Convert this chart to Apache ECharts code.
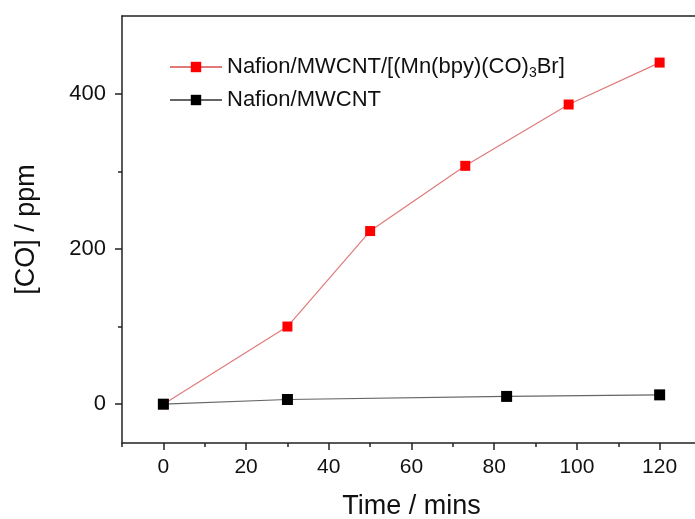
<!DOCTYPE html>
<html>
<head>
<meta charset="utf-8">
<script src="https://cdn.jsdelivr.net/npm/echarts@6/dist/echarts.min.js"></script>
<style>
  html, body { margin: 0; padding: 0; background: #fff; }
  #chart { width: 695px; height: 519px; }
</style>
</head>
<body>
<div id="chart"></div>
<script>
// tick values
var xMajor = [0, 20, 40, 60, 80, 100, 120];
var xMinor = [-10, 10, 30, 50, 70, 90, 110, 130];
var yMajor = [0, 200, 400];
var yMinor = [100, 300];

// Nafion/MWCNT/[(Mn(bpy)(CO)3Br]
var timeMn = [0, 30, 50, 73, 98, 120];
var coMn = [0, 100, 223, 307, 386, 440];
// Nafion/MWCNT
var timeBare = [0, 30, 83, 120];
var coBare = [0, 6, 10, 12];

var font = '"Liberation Sans", Arial, sans-serif';
var axisColor = '#222';

function pairs(xs, ys) {
  return xs.map(function (x, i) { return [x, ys[i]]; });
}

// the frame runs past the right edge of the picture
var gridRect = { left: 122, right: -6, top: 16, bottom: 76, outerBoundsMode: 'none', containLabel: false };

// a bare axis that only draws ticks at the given values
function tickAxis(grid, pos, min, max, values, len) {
  return {
    gridIndex: grid,
    type: 'value',
    min: min,
    max: max,
    position: pos,
    axisLine: { show: false, onZero: false },
    axisTick: { show: true, length: len, customValues: values, lineStyle: { color: axisColor, width: 1.5 } },
    axisLabel: { show: false },
    splitLine: { show: false }
  };
}

var chart = echarts.init(document.getElementById('chart'));
chart.setOption({
  animation: false,
  backgroundColor: '#fff',
  grid: [
    Object.assign({}, gridRect),
    Object.assign({}, gridRect),
    Object.assign({}, gridRect)
  ],
  legend: {
    orient: 'vertical',
    left: 164,
    top: 51,
    itemWidth: 52,
    itemHeight: 13,
    itemGap: 9,
    textStyle: {
      fontFamily: font,
      fontSize: 22,
      color: '#111',
      rich: {
        sub: { fontFamily: font, fontSize: 14, color: '#111', verticalAlign: 'bottom', padding: [12, 0, 0, 0] }
      }
    },
    formatter: function (name) {
      return name === 'mn' ? 'Nafion/MWCNT/[(Mn(bpy)(CO){sub|3}Br]' : 'Nafion/MWCNT';
    },
    data: ['mn', 'bare']
  },
  xAxis: [
    {
      gridIndex: 0,
      type: 'value',
      min: -10,
      max: 130,
      position: 'bottom',
      name: 'Time / mins',
      nameLocation: 'middle',
      nameGap: 50,
      nameTextStyle: { fontFamily: font, fontSize: 27, color: '#111' },
      axisLine: { show: true, onZero: false, lineStyle: { color: axisColor, width: 1.5 } },
      axisTick: { show: false },
      axisLabel: { customValues: xMajor, fontFamily: font, fontSize: 21, color: '#111', margin: 14 },
      splitLine: { show: false }
    },
    tickAxis(1, 'bottom', -10, 130, xMinor, 4),
    {
      gridIndex: 1,
      type: 'value',
      min: -10,
      max: 130,
      position: 'top',
      axisLine: { show: true, onZero: false, lineStyle: { color: axisColor, width: 1.5 } },
      axisTick: { show: false },
      axisLabel: { show: false },
      splitLine: { show: false }
    },
    tickAxis(2, 'bottom', -10, 130, xMajor, 7)
  ],
  yAxis: [
    {
      gridIndex: 0,
      type: 'value',
      min: -50,
      max: 500,
      position: 'left',
      name: '[CO] / ppm',
      nameLocation: 'middle',
      nameGap: 82,
      nameTextStyle: { fontFamily: font, fontSize: 27, color: '#111' },
      axisLine: { show: true, onZero: false, lineStyle: { color: axisColor, width: 1.5 } },
      axisTick: { show: false },
      axisLabel: { customValues: yMajor, fontFamily: font, fontSize: 22, color: '#111', margin: 16 },
      splitLine: { show: false }
    },
    tickAxis(1, 'left', -50, 500, yMinor, 4),
    tickAxis(2, 'left', -50, 500, yMajor, 7)
  ],
  series: [
    {
      name: 'mn',
      type: 'line',
      xAxisIndex: 0,
      yAxisIndex: 0,
      data: pairs(timeMn, coMn),
      symbol: 'rect',
      symbolSize: 10,
      itemStyle: { color: '#ff0000' },
      lineStyle: { color: '#e07a7a', width: 1.2 },
      z: 3
    },
    {
      name: 'bare',
      type: 'line',
      xAxisIndex: 0,
      yAxisIndex: 0,
      data: pairs(timeBare, coBare),
      symbol: 'rect',
      symbolSize: 11,
      itemStyle: { color: '#000' },
      lineStyle: { color: '#666', width: 1.2 },
      z: 4
    }
  ]
});
</script>
</body>
</html>
